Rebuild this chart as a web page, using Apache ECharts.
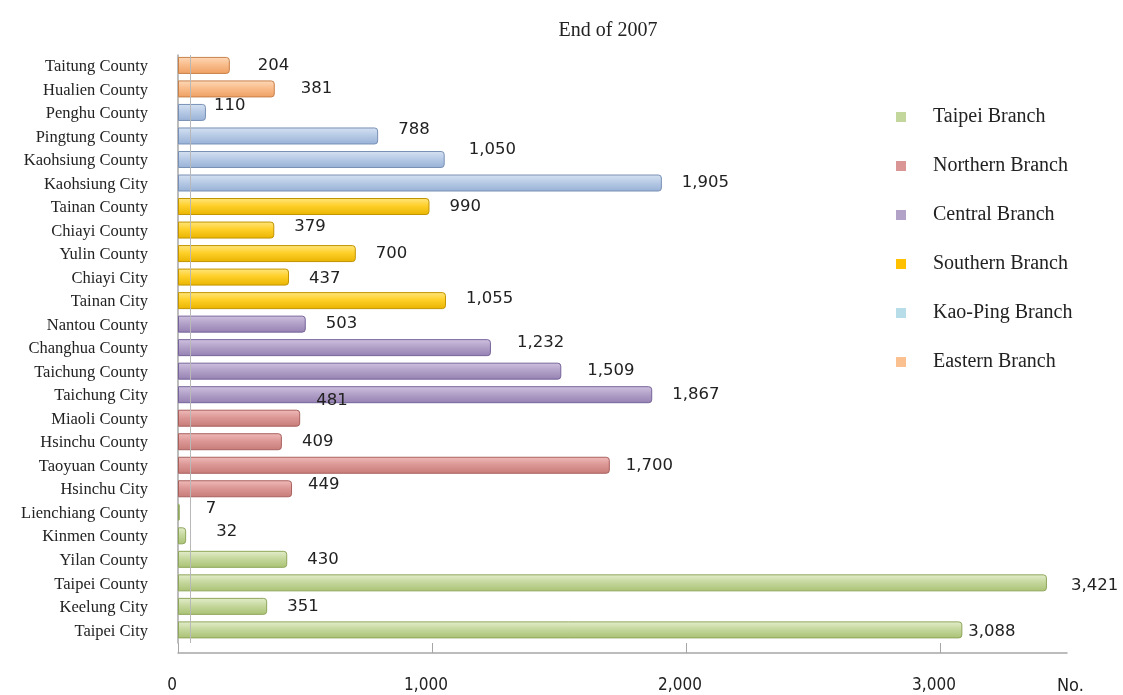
<!DOCTYPE html>
<html>
<head>
<meta charset="utf-8">
<script src="https://cdn.jsdelivr.net/npm/echarts@6/dist/echarts.min.js"></script>
<style>html,body{margin:0;padding:0;background:#fff;}#c{width:1123px;height:695px;}</style>
</head>
<body>
<div id="c"></div>
<script>
// ---- data (bottom to top) ----
const categories = ['Taipei City','Keelung City','Taipei County','Yilan County','Kinmen County','Lienchiang County',
  'Hsinchu City','Taoyuan County','Hsinchu County','Miaoli County',
  'Taichung City','Taichung County','Changhua County','Nantou County',
  'Tainan City','Chiayi City','Yulin County','Chiayi County','Tainan County',
  'Kaohsiung City','Kaohsiung County','Pingtung County','Penghu County',
  'Hualien County','Taitung County'];
const values = [3088,351,3421,430,32,7, 449,1700,409,481, 1867,1509,1232,503, 1055,437,700,379,990, 1905,1050,788,110, 381,204];
const branches = ['Taipei Branch','Northern Branch','Central Branch','Southern Branch','Kao-Ping Branch','Eastern Branch'];
const branchOfCategory = [0,0,0,0,0,0, 1,1,1,1, 2,2,2,2, 3,3,3,3,3, 4,4,4,4, 5,5];
const xTicks = [0,1000,2000,3000];

// ---- styles ----
const barStyles = [
  {top:'#e4eecd', mid:'#c6d89e', bot:'#a9c173', border:'#8ea65a'},
  {top:'#f0bcba', mid:'#dc9896', bot:'#c77c79', border:'#a8605d'},
  {top:'#cfc2e0', mid:'#b3a2c9', bot:'#9581b2', border:'#76639a'},
  {top:'#ffe680', mid:'#ffd02a', bot:'#e9b400', border:'#c29400'},
  {top:'#d6e2f2', mid:'#b8cbe6', bot:'#98b1d6', border:'#7890b5'},
  {top:'#fdd9b9', mid:'#f9bd8c', bot:'#ee9f62', border:'#c8804a'}
];
const legendColors = ['#c3d69b','#d99694','#b3a2c7','#ffc000','#b7dee8','#fac090'];
const labelOffsets = {
  'Taitung County':[8,0], 'Hualien County':[6,0], 'Penghu County':[-12,-7], 'Pingtung County':[0,-6],
  'Kaohsiung County':[4,-10], 'Chiayi County':[0,-3], 'Chiayi City':[0,2], 'Tainan City':[0,-2],
  'Changhua County':[6,-5], 'Taichung County':[6,0], 'Miaoli County':[-4,-17], 'Hsinchu City':[-4,-4],
  'Lienchiang County':[6,-4], 'Kinmen County':[10,-4], 'Taipei County':[4,3], 'Taipei City':[-14,2],
  'Taoyuan County':[-4,0]
};

const series = branches.map((b, bi) => {
  const s = barStyles[bi];
  return {
    name: b, type: 'bar', stack: 'all', barWidth: 17, z: 3,
    itemStyle: {
      color: {type:'linear', x:0, y:0, x2:0, y2:1, colorStops:[
        {offset:0, color:s.top},{offset:0.45, color:s.mid},{offset:1, color:s.bot}]},
      borderColor: s.border, borderWidth: 1, borderRadius: [0,3,3,0]
    },
    label: {
      show: true, position: 'right', distance: 20,
      fontFamily: 'DejaVu Sans', fontSize: 16.5, color: '#222',
      formatter: p => Number(p.value).toLocaleString('en-US')
    },
    data: categories.map((c, i) => branchOfCategory[i] === bi
      ? {value: values[i], label: labelOffsets[c] ? {offset: labelOffsets[c]} : {}}
      : '-')
  };
});
series.push({
  name: '_wall', type: 'bar', data: [], silent: true, z: 1,
  markLine: {silent: true, symbol: 'none', label: {show:false}, animation: false,
    lineStyle: {color:'#b8b8b8', width: 1, type: 'solid'},
    data: [{xAxis: 50}]}
});

const chart = echarts.init(document.getElementById('c'), null, {renderer:'canvas'});
chart.setOption({
  animation: false,
  backgroundColor: '#fff',
  title: {
    text: 'End of 2007', left: 603, top: 16, textAlign: 'center',
    textStyle: {fontFamily: 'Liberation Serif', fontSize: 20, fontWeight: 'normal', color: '#222'}
  },
  legend: {
    orient: 'vertical', left: 891, top: 102, itemGap: 29,
    itemWidth: 10, itemHeight: 10, icon: 'rect',
    textStyle: {fontFamily: 'Liberation Serif', fontSize: 20, color: '#222', padding: [0,0,0,22]},
    data: branches.map((b, i) => ({name: b, itemStyle: {color: legendColors[i], borderWidth: 0}}))
  },
  grid: {left: 178, right: 56, top: 55, bottom: 52, containLabel: false},
  xAxis: {
    type: 'value', min: 0, max: 3500, interval: 1000, offset: 10,
    name: 'No.', nameLocation: 'end', nameGap: -10,
    nameTextStyle: {fontFamily: "'DejaVu Sans Condensed', 'Liberation Serif'", fontSize: 18, color: '#222',
      align: 'left', verticalAlign: 'top', padding: [24,0,0,0]},
    axisLine: {show: true, lineStyle: {color: '#a6a6a6', width: 1.5}},
    axisTick: {show: true, inside: true, length: 10, customValues: xTicks, lineStyle: {color: '#a6a6a6'}},
    splitLine: {show: false},
    axisLabel: {
      margin: 24, fontFamily: "'DejaVu Sans Condensed', 'Liberation Serif'", fontSize: 17, color: '#222', padding: [0,12,0,0],
      customValues: xTicks,
      formatter: v => Number(v).toLocaleString('en-US')
    }
  },
  yAxis: {
    type: 'category', data: categories,
    axisLine: {show: true, lineStyle: {color: '#a6a6a6', width: 1.5}},
    axisTick: {show: false},
    axisLabel: {margin: 30, fontFamily: 'Liberation Serif', fontSize: 16.5, color: '#222'}
  },
  series: series
});
</script>
</body>
</html>
